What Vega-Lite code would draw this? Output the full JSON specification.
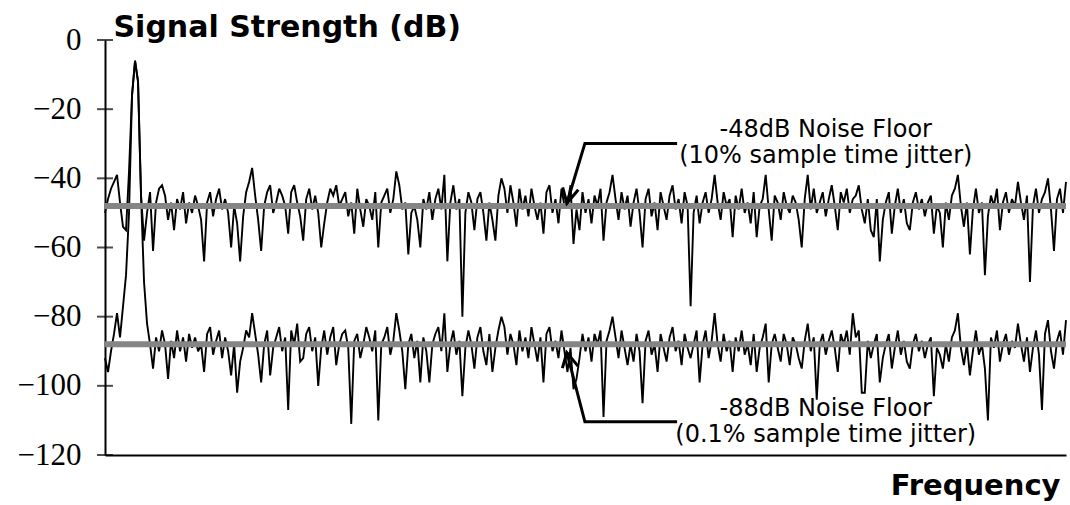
{
"$schema": "https://vega.github.io/schema/vega-lite/v6.json",
"autosize": "none",
"width": 961, "height": 415,
"padding": {"left": 105, "top": 40, "right": 4, "bottom": 50},
"background": "white",
"config": {"view": {"stroke": null}},
"datasets": {
"spec": [
{"i":0,"u":-50,"l":-92},{"i":1,"u":-46,"l":-96},{"i":2,"u":-43,"l":-90},{"i":3,"u":-41,"l":-85},{"i":4,"u":-39,"l":-79},{"i":5,"u":-47,"l":-86},{"i":6,"u":-54,"l":-77},{"i":7,"u":-55,"l":-68},{"i":8,"u":-38,"l":-50},{"i":9,"u":-16,"l":-16},
{"i":10,"u":-6,"l":-6},{"i":11,"u":-12,"l":-12},{"i":12,"u":-45,"l":-45},{"i":13,"u":-58,"l":-70},{"i":14,"u":-50,"l":-82},{"i":15,"u":-44,"l":-88},{"i":16,"u":-61,"l":-95},{"i":17,"u":-47,"l":-86},{"i":18,"u":-43,"l":-90},{"i":19,"u":-42,"l":-84},
{"i":20,"u":-45,"l":-88},{"i":21,"u":-52,"l":-98},{"i":22,"u":-47,"l":-87},{"i":23,"u":-55,"l":-92},{"i":24,"u":-46,"l":-84},{"i":25,"u":-49,"l":-90},{"i":26,"u":-44,"l":-86},{"i":27,"u":-53,"l":-93},{"i":28,"u":-47,"l":-85},{"i":29,"u":-50,"l":-89},
{"i":30,"u":-45,"l":-86},{"i":31,"u":-48,"l":-90},{"i":32,"u":-52,"l":-88},{"i":33,"u":-64,"l":-96},{"i":34,"u":-47,"l":-85},{"i":35,"u":-44,"l":-83},{"i":36,"u":-51,"l":-91},{"i":37,"u":-46,"l":-87},{"i":38,"u":-43,"l":-84},{"i":39,"u":-49,"l":-92},
{"i":40,"u":-46,"l":-86},{"i":41,"u":-50,"l":-90},{"i":42,"u":-60,"l":-97},{"i":43,"u":-48,"l":-88},{"i":44,"u":-53,"l":-102},{"i":45,"u":-64,"l":-93},{"i":46,"u":-51,"l":-89},{"i":47,"u":-44,"l":-84},{"i":48,"u":-41,"l":-86},{"i":49,"u":-37,"l":-79},
{"i":50,"u":-45,"l":-85},{"i":51,"u":-52,"l":-91},{"i":52,"u":-61,"l":-99},{"i":53,"u":-48,"l":-88},{"i":54,"u":-44,"l":-84},{"i":55,"u":-42,"l":-97},{"i":56,"u":-50,"l":-89},{"i":57,"u":-47,"l":-86},{"i":58,"u":-43,"l":-83},{"i":59,"u":-45,"l":-90},
{"i":60,"u":-48,"l":-86},{"i":61,"u":-56,"l":-107},{"i":62,"u":-44,"l":-84},{"i":63,"u":-42,"l":-88},{"i":64,"u":-47,"l":-82},{"i":65,"u":-51,"l":-93},{"i":66,"u":-58,"l":-92},{"i":67,"u":-46,"l":-85},{"i":68,"u":-43,"l":-83},{"i":69,"u":-49,"l":-90},
{"i":70,"u":-45,"l":-86},{"i":71,"u":-50,"l":-100},{"i":72,"u":-60,"l":-89},{"i":73,"u":-53,"l":-84},{"i":74,"u":-47,"l":-91},{"i":75,"u":-43,"l":-86},{"i":76,"u":-45,"l":-83},{"i":77,"u":-42,"l":-94},{"i":78,"u":-48,"l":-88},{"i":79,"u":-46,"l":-85},
{"i":80,"u":-44,"l":-84},{"i":81,"u":-51,"l":-89},{"i":82,"u":-47,"l":-111},{"i":83,"u":-56,"l":-87},{"i":84,"u":-43,"l":-85},{"i":85,"u":-49,"l":-92},{"i":86,"u":-54,"l":-88},{"i":87,"u":-46,"l":-83},{"i":88,"u":-48,"l":-86},{"i":89,"u":-52,"l":-90},
{"i":90,"u":-44,"l":-84},{"i":91,"u":-60,"l":-110},{"i":92,"u":-47,"l":-88},{"i":93,"u":-45,"l":-86},{"i":94,"u":-43,"l":-83},{"i":95,"u":-50,"l":-91},{"i":96,"u":-46,"l":-87},{"i":97,"u":-38,"l":-79},{"i":98,"u":-42,"l":-84},{"i":99,"u":-49,"l":-90},
{"i":100,"u":-47,"l":-101},{"i":101,"u":-62,"l":-88},{"i":102,"u":-50,"l":-85},{"i":103,"u":-48,"l":-92},{"i":104,"u":-52,"l":-87},{"i":105,"u":-60,"l":-99},{"i":106,"u":-46,"l":-86},{"i":107,"u":-49,"l":-90},{"i":108,"u":-44,"l":-99},{"i":109,"u":-52,"l":-88},
{"i":110,"u":-46,"l":-85},{"i":111,"u":-43,"l":-83},{"i":112,"u":-49,"l":-90},{"i":113,"u":-39,"l":-79},{"i":114,"u":-64,"l":-96},{"i":115,"u":-47,"l":-88},{"i":116,"u":-42,"l":-84},{"i":117,"u":-49,"l":-91},{"i":118,"u":-46,"l":-87},{"i":119,"u":-80,"l":-103},
{"i":120,"u":-50,"l":-89},{"i":121,"u":-44,"l":-84},{"i":122,"u":-47,"l":-88},{"i":123,"u":-55,"l":-95},{"i":124,"u":-46,"l":-86},{"i":125,"u":-44,"l":-83},{"i":126,"u":-50,"l":-90},{"i":127,"u":-58,"l":-94},{"i":128,"u":-47,"l":-85},{"i":129,"u":-52,"l":-96},
{"i":130,"u":-58,"l":-89},{"i":131,"u":-45,"l":-84},{"i":132,"u":-40,"l":-80},{"i":133,"u":-43,"l":-83},{"i":134,"u":-50,"l":-91},{"i":135,"u":-42,"l":-85},{"i":136,"u":-47,"l":-88},{"i":137,"u":-54,"l":-94},{"i":138,"u":-43,"l":-84},{"i":139,"u":-49,"l":-90},
{"i":140,"u":-45,"l":-86},{"i":141,"u":-51,"l":-92},{"i":142,"u":-43,"l":-83},{"i":143,"u":-48,"l":-88},{"i":144,"u":-52,"l":-93},{"i":145,"u":-47,"l":-86},{"i":146,"u":-56,"l":-99},{"i":147,"u":-44,"l":-85},{"i":148,"u":-42,"l":-83},{"i":149,"u":-50,"l":-90},
{"i":150,"u":-46,"l":-87},{"i":151,"u":-53,"l":-92},{"i":152,"u":-43,"l":-84},{"i":153,"u":-48,"l":-90},{"i":154,"u":-47,"l":-96},{"i":155,"u":-42,"l":-89},{"i":156,"u":-59,"l":-101},{"i":157,"u":-49,"l":-98},{"i":158,"u":-55,"l":-92},{"i":159,"u":-44,"l":-85},
{"i":160,"u":-50,"l":-90},{"i":161,"u":-46,"l":-86},{"i":162,"u":-53,"l":-93},{"i":163,"u":-45,"l":-85},{"i":164,"u":-48,"l":-88},{"i":165,"u":-43,"l":-84},{"i":166,"u":-58,"l":-109},{"i":167,"u":-47,"l":-87},{"i":168,"u":-44,"l":-84},{"i":169,"u":-39,"l":-80},
{"i":170,"u":-46,"l":-86},{"i":171,"u":-52,"l":-92},{"i":172,"u":-44,"l":-84},{"i":173,"u":-49,"l":-89},{"i":174,"u":-45,"l":-94},{"i":175,"u":-54,"l":-88},{"i":176,"u":-47,"l":-93},{"i":177,"u":-43,"l":-85},{"i":178,"u":-50,"l":-90},{"i":179,"u":-60,"l":-105},
{"i":180,"u":-46,"l":-87},{"i":181,"u":-43,"l":-84},{"i":182,"u":-51,"l":-91},{"i":183,"u":-47,"l":-88},{"i":184,"u":-55,"l":-96},{"i":185,"u":-44,"l":-85},{"i":186,"u":-48,"l":-89},{"i":187,"u":-52,"l":-93},{"i":188,"u":-45,"l":-86},{"i":189,"u":-42,"l":-83},
{"i":190,"u":-49,"l":-90},{"i":191,"u":-46,"l":-87},{"i":192,"u":-53,"l":-94},{"i":193,"u":-44,"l":-85},{"i":194,"u":-48,"l":-89},{"i":195,"u":-77,"l":-92},{"i":196,"u":-50,"l":-88},{"i":197,"u":-45,"l":-84},{"i":198,"u":-53,"l":-99},{"i":199,"u":-47,"l":-88},
{"i":200,"u":-44,"l":-84},{"i":201,"u":-50,"l":-92},{"i":202,"u":-46,"l":-87},{"i":203,"u":-39,"l":-79},{"i":204,"u":-47,"l":-88},{"i":205,"u":-52,"l":-93},{"i":206,"u":-44,"l":-85},{"i":207,"u":-48,"l":-90},{"i":208,"u":-46,"l":-87},{"i":209,"u":-57,"l":-96},
{"i":210,"u":-45,"l":-86},{"i":211,"u":-49,"l":-90},{"i":212,"u":-43,"l":-84},{"i":213,"u":-50,"l":-91},{"i":214,"u":-47,"l":-88},{"i":215,"u":-53,"l":-94},{"i":216,"u":-44,"l":-85},{"i":217,"u":-57,"l":-96},{"i":218,"u":-48,"l":-89},{"i":219,"u":-46,"l":-86},
{"i":220,"u":-39,"l":-82},{"i":221,"u":-49,"l":-99},{"i":222,"u":-58,"l":-88},{"i":223,"u":-45,"l":-85},{"i":224,"u":-47,"l":-89},{"i":225,"u":-52,"l":-93},{"i":226,"u":-44,"l":-85},{"i":227,"u":-48,"l":-88},{"i":228,"u":-50,"l":-94},{"i":229,"u":-45,"l":-86},
{"i":230,"u":-47,"l":-88},{"i":231,"u":-52,"l":-92},{"i":232,"u":-60,"l":-95},{"i":233,"u":-46,"l":-87},{"i":234,"u":-39,"l":-82},{"i":235,"u":-49,"l":-90},{"i":236,"u":-43,"l":-86},{"i":237,"u":-50,"l":-104},{"i":238,"u":-47,"l":-88},{"i":239,"u":-44,"l":-85},
{"i":240,"u":-51,"l":-91},{"i":241,"u":-46,"l":-87},{"i":242,"u":-42,"l":-84},{"i":243,"u":-48,"l":-89},{"i":244,"u":-55,"l":-96},{"i":245,"u":-44,"l":-85},{"i":246,"u":-47,"l":-88},{"i":247,"u":-43,"l":-84},{"i":248,"u":-50,"l":-91},{"i":249,"u":-46,"l":-79},
{"i":250,"u":-45,"l":-86},{"i":251,"u":-42,"l":-84},{"i":252,"u":-49,"l":-102},{"i":253,"u":-53,"l":-102},{"i":254,"u":-46,"l":-87},{"i":255,"u":-55,"l":-92},{"i":256,"u":-57,"l":-88},{"i":257,"u":-46,"l":-85},{"i":258,"u":-64,"l":-99},{"i":259,"u":-52,"l":-92},
{"i":260,"u":-47,"l":-88},{"i":261,"u":-44,"l":-85},{"i":262,"u":-56,"l":-95},{"i":263,"u":-48,"l":-89},{"i":264,"u":-43,"l":-84},{"i":265,"u":-50,"l":-91},{"i":266,"u":-46,"l":-87},{"i":267,"u":-53,"l":-93},{"i":268,"u":-55,"l":-95},{"i":269,"u":-47,"l":-88},
{"i":270,"u":-44,"l":-85},{"i":271,"u":-49,"l":-90},{"i":272,"u":-46,"l":-87},{"i":273,"u":-51,"l":-92},{"i":274,"u":-47,"l":-88},{"i":275,"u":-45,"l":-86},{"i":276,"u":-56,"l":-103},{"i":277,"u":-48,"l":-89},{"i":278,"u":-50,"l":-91},{"i":279,"u":-60,"l":-95},
{"i":280,"u":-47,"l":-88},{"i":281,"u":-52,"l":-93},{"i":282,"u":-45,"l":-86},{"i":283,"u":-43,"l":-84},{"i":284,"u":-39,"l":-79},{"i":285,"u":-48,"l":-89},{"i":286,"u":-54,"l":-94},{"i":287,"u":-47,"l":-88},{"i":288,"u":-62,"l":-97},{"i":289,"u":-49,"l":-90},
{"i":290,"u":-43,"l":-84},{"i":291,"u":-50,"l":-91},{"i":292,"u":-47,"l":-88},{"i":293,"u":-68,"l":-95},{"i":294,"u":-51,"l":-110},{"i":295,"u":-45,"l":-86},{"i":296,"u":-48,"l":-89},{"i":297,"u":-43,"l":-84},{"i":298,"u":-55,"l":-93},{"i":299,"u":-47,"l":-88},
{"i":300,"u":-44,"l":-85},{"i":301,"u":-50,"l":-91},{"i":302,"u":-46,"l":-87},{"i":303,"u":-48,"l":-89},{"i":304,"u":-41,"l":-82},{"i":305,"u":-47,"l":-88},{"i":306,"u":-52,"l":-93},{"i":307,"u":-45,"l":-86},{"i":308,"u":-70,"l":-96},{"i":309,"u":-48,"l":-89},
{"i":310,"u":-43,"l":-84},{"i":311,"u":-50,"l":-91},{"i":312,"u":-46,"l":-107},{"i":313,"u":-44,"l":-85},{"i":314,"u":-40,"l":-81},{"i":315,"u":-49,"l":-90},{"i":316,"u":-61,"l":-95},{"i":317,"u":-46,"l":-87},{"i":318,"u":-43,"l":-84},{"i":319,"u":-50,"l":-91},
{"i":320,"u":-41,"l":-81}
],
"floors": [{"f":-48},{"f":-88}],
"yticks": [{"v":0},{"v":-20},{"v":-40},{"v":-60},{"v":-80},{"v":-100},{"v":-120}],
"callouts": [
{"g":"a","o":1,"x":190.5,"y":-29.9},{"g":"a","o":2,"x":159.8,"y":-29.9},{"g":"a","o":3,"x":153.8,"y":-47.2},
{"g":"b","o":1,"x":157.6,"y":-43.3},{"g":"b","o":2,"x":153.8,"y":-47.2},{"g":"b","o":3,"x":152.4,"y":-42.6},
{"g":"c","o":1,"x":190.5,"y":-110.4},{"g":"c","o":2,"x":159.8,"y":-110.4},{"g":"c","o":3,"x":153.8,"y":-90.4},
{"g":"d","o":1,"x":157.5,"y":-94.3},{"g":"d","o":2,"x":153.8,"y":-90.4},{"g":"d","o":3,"x":152.3,"y":-94.9}
],
"notes": [
{"x":240,"y":-28.1,"t":["-48dB Noise Floor", "(10% sample time jitter)"]},
{"x":240,"y":-108.7,"t":["-88dB Noise Floor", "(0.1% sample time jitter)"]}
]
},
"layer": [
{
"data": {"name": "spec"},
"mark": {"type": "line", "color": "black", "strokeWidth": 1.9, "strokeJoin": "miter", "strokeMiterLimit": 3},
"encoding": {
"x": {"field": "i", "type": "quantitative", "scale": {"domain": [0, 320], "nice": false, "zero": false},
"axis": {"title": "Frequency", "titleFont": "DejaVu Sans", "titleFontSize": 29, "titleFontWeight": "bold", "titleColor": "black", "titleAnchor": "end", "titleAlign": "right", "titleBaseline": "alphabetic", "titlePadding": 39, "titleX": 955, "labels": false, "ticks": false, "grid": false, "domainColor": "black", "domainWidth": 2}},
"y": {"field": "u", "type": "quantitative", "scale": {"domain": [-120, 0], "nice": false},
"axis": {"title": "Signal Strength (dB)", "titleAngle": 0, "titleAlign": "left", "titleBaseline": "alphabetic", "titleX": 8, "titleY": -4, "titleFont": "DejaVu Sans", "titleFontSize": 30, "titleFontWeight": "bold", "titleColor": "black",
"values": [0, -20, -40, -60, -80, -100, -120], "ticks": false, "grid": false, "domainColor": "black", "domainWidth": 2,
"labelFont": "Liberation Serif", "labelFontSize": 31, "labelColor": "black", "labelPadding": 24}}
}
},
{
"data": {"name": "spec"},
"mark": {"type": "line", "color": "black", "strokeWidth": 1.9, "strokeJoin": "miter", "strokeMiterLimit": 3},
"encoding": {
"x": {"field": "i", "type": "quantitative"},
"y": {"field": "l", "type": "quantitative"}
}
},
{
"data": {"name": "floors"},
"mark": {"type": "rule", "color": "#858585", "strokeWidth": 6},
"encoding": {"y": {"field": "f", "type": "quantitative"}}
},
{
"data": {"name": "yticks"},
"mark": {"type": "tick", "orient": "horizontal", "color": "black", "size": 16, "thickness": 2},
"encoding": {"x": {"datum": 0}, "y": {"field": "v", "type": "quantitative"}}
},
{
"data": {"name": "callouts"},
"mark": {"type": "line", "color": "black", "strokeWidth": 3, "strokeJoin": "miter"},
"encoding": {
"x": {"field": "x", "type": "quantitative"},
"y": {"field": "y", "type": "quantitative"},
"detail": {"field": "g"},
"order": {"field": "o"}
}
},
{
"data": {"name": "notes"},
"mark": {"type": "text", "font": "DejaVu Sans", "fontSize": 24, "lineHeight": 26, "color": "black", "align": "center", "baseline": "alphabetic"},
"encoding": {
"x": {"field": "x", "type": "quantitative"},
"y": {"field": "y", "type": "quantitative"},
"text": {"field": "t"}
}
}
]
}
